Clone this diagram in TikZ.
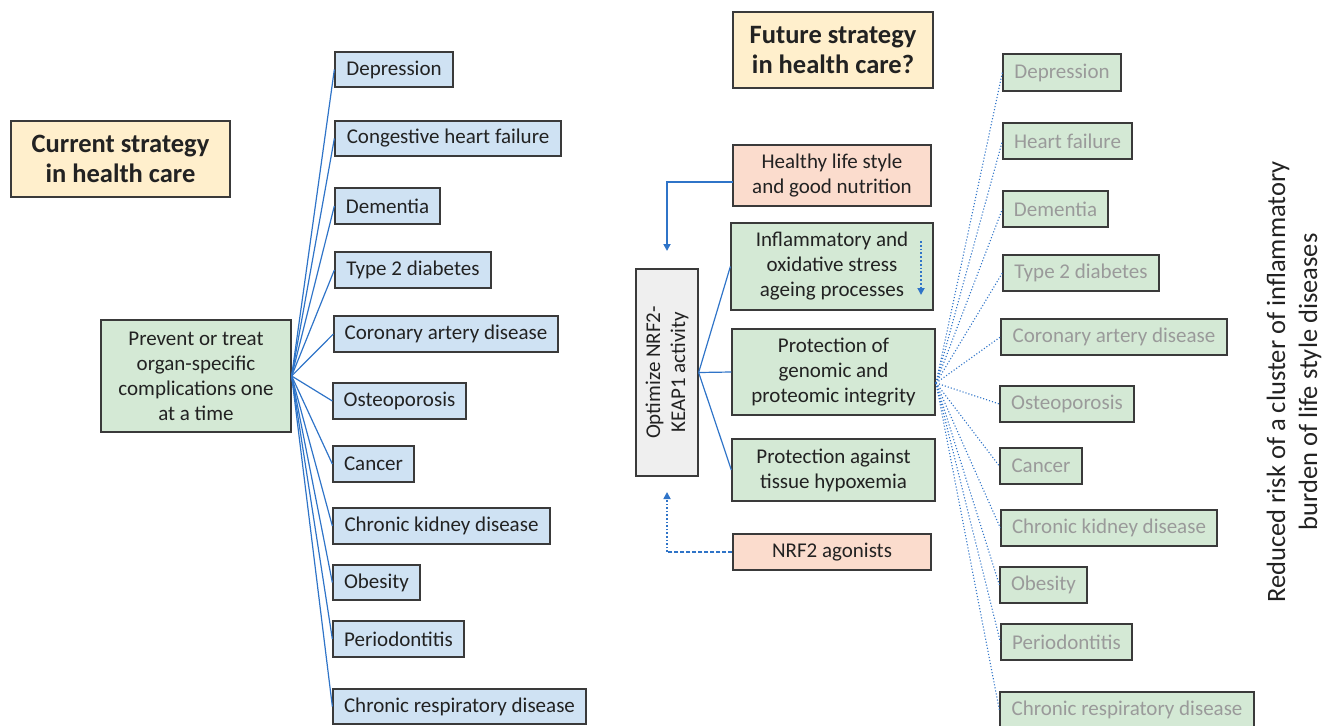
\documentclass[tikz,border=0pt]{standalone}
\usepackage{fontspec}
\setmainfont{Carlito}
\usetikzlibrary{arrows.meta,calc}
\definecolor{bfill}{HTML}{CFE2F3}
\definecolor{gfill}{HTML}{D4E9D5}
\definecolor{pfill}{HTML}{FBDCCD}
\definecolor{yfill}{HTML}{FFEFCC}
\definecolor{grfill}{HTML}{EFEFEF}
\definecolor{bord}{HTML}{3A3A3A}
\definecolor{lblue}{HTML}{2F74C8}
\definecolor{txt}{HTML}{222222}
\definecolor{gtxt}{HTML}{9A9A9A}
\newcommand\mybox[7]{%
  \node[#6, minimum width={(#4-#2)*1pt}, minimum height={(#5-#3)*1pt}] (#1) at ({(#2+#4)/2},{(#3+#5)/2}) {#7};}
\tikzset{
  basebox/.style={draw=bord, line width=1.3pt, inner sep=0pt, align=center, text=txt,
    font=\fontsize{21}{25}\selectfont},
  bluebox/.style={basebox, fill=bfill},
  greenbox/.style={basebox, fill=gfill},
  greybox/.style={basebox, fill=gfill, text=gtxt},
  peachbox/.style={basebox, fill=pfill},
  titlebox/.style={basebox, fill=yfill, font=\fontsize{26.5}{30}\selectfont\bfseries},
  optbox/.style={basebox, fill=grfill},
  conn/.style={draw=lblue, line width=1.2pt},
  dconn/.style={draw=lblue, line width=1.1pt, dotted},
  tip/.style={-{Triangle[length=7pt,width=7pt]}}
}
\begin{document}
\begin{tikzpicture}[x=1pt,y=-1pt]
\useasboundingbox (0,0) rectangle (1324,725);
% titles
\mybox{cur}{11}{121}{230}{197}{titlebox}{Current strategy\\in health care}
\mybox{fut}{733}{12}{933}{88}{titlebox}{Future strategy\\in health care?}
% left side
\mybox{prev}{101}{320}{291}{432}{greenbox}{Prevent or treat\\organ-specific\\complications one\\at a time}
\mybox{L1}{335}{52}{453}{87}{bluebox}{Depression}
\mybox{L2}{335}{121}{561}{156}{bluebox}{Congestive heart failure}
\mybox{L3}{335}{188}{440}{224}{bluebox}{Dementia}
\mybox{L4}{335}{252}{491}{288}{bluebox}{Type 2 diabetes}
\mybox{L5}{334}{316}{558}{352}{bluebox}{Coronary artery disease}
\mybox{L6}{333}{383}{466}{419}{bluebox}{Osteoporosis}
\mybox{L7}{333}{446}{414}{482}{bluebox}{Cancer}
\mybox{L8}{333}{508}{550}{544}{bluebox}{Chronic kidney disease}
\mybox{L9}{333}{565}{420}{600}{bluebox}{Obesity}
\mybox{L10}{333}{621}{464}{657}{bluebox}{Periodontitis}
\mybox{L11}{333}{689}{586}{724}{bluebox}{Chronic respiratory disease}
\foreach \i in {1,...,11} { \draw[conn] (prev.east) -- (L\i.west); }
% middle
\mybox{opt}{636}{269}{698}{476}{optbox}{}
\node[rotate=90, align=center, text=txt, font=\fontsize{21}{25}\selectfont] (optt) at (opt.center) {Optimize NRF2-\\KEAP1 activity};
\mybox{hls}{733}{145}{931}{206}{peachbox}{Healthy life style\\and good nutrition}
\mybox{inf}{731}{223}{933}{310}{greenbox}{Inflammatory and\\oxidative stress\\ageing processes}
\mybox{gen}{732}{329}{935}{415}{greenbox}{Protection of\\genomic and\\proteomic integrity}
\mybox{hyp}{732}{439}{935}{501}{greenbox}{Protection against\\tissue hypoxemia}
\mybox{agon}{733}{534}{931}{570}{peachbox}{NRF2 agonists}
\draw[conn] (opt.east) -- (inf.west);
\draw[conn] (opt.east) -- (gen.west);
\draw[conn] (opt.east) -- (hyp.west);
\coordinate (hA) at (733,182);
\coordinate (hB) at (667,182);
\coordinate (hC) at (667,251);
\draw[conn, line width=2.2pt, tip] (hA) -- (hB) -- (hC);
\coordinate (aB) at (667,552);
\coordinate (aC) at (667,492);
\draw[conn, line width=1.4pt, dashed, dash pattern=on 4pt off 2pt] (agon.west) -- (aB);
\draw[conn, line width=1.6pt, dotted, tip] (aB) -- (aC);
\coordinate (iA) at (921,241);
\coordinate (iB) at (921,295);
\draw[conn, line width=1.8pt, dotted, tip] (iA) -- (iB);
% right side
\mybox{R1}{1003}{54}{1121}{91}{greybox}{Depression}
\mybox{R2}{1003}{123}{1132}{159}{greybox}{Heart failure}
\mybox{R3}{1003}{191}{1108}{227}{greybox}{Dementia}
\mybox{R4}{1003}{255}{1159}{291}{greybox}{Type 2 diabetes}
\mybox{R5}{1001}{319}{1227}{355}{greybox}{Coronary artery disease}
\mybox{R6}{1000}{386}{1134}{422}{greybox}{Osteoporosis}
\mybox{R7}{1000}{448}{1082}{484}{greybox}{Cancer}
\mybox{R8}{1001}{510}{1217}{546}{greybox}{Chronic kidney disease}
\mybox{R9}{1000}{567}{1087}{603}{greybox}{Obesity}
\mybox{R10}{1001}{624}{1132}{660}{greybox}{Periodontitis}
\mybox{R11}{1000}{692}{1254}{728}{greybox}{Chronic respiratory disease}
\coordinate (rc) at (936,383);
\foreach \i in {1,...,11} { \draw[dconn] (rc) -- (R\i.west); }
\node[rotate=90, align=center, text=txt, inner sep=0pt, font=\fontsize{26.5}{32}\selectfont] (red) at (1294,382) {Reduced risk of a cluster of inflammatory\\burden of life style diseases};
\end{tikzpicture}
\end{document}
